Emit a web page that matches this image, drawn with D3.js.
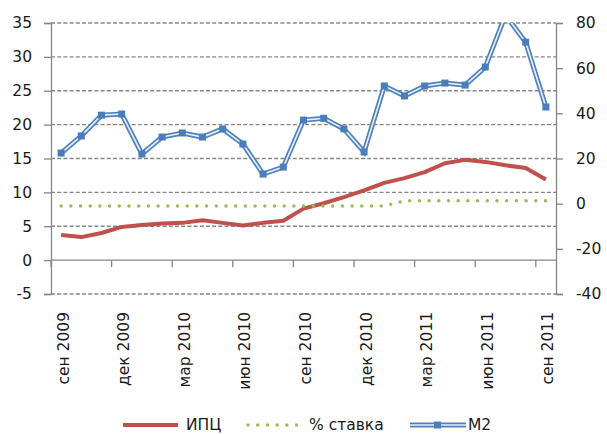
<!DOCTYPE html>
<html>
<head>
<meta charset="utf-8">
<script src="https://cdn.jsdelivr.net/npm/d3@7"></script>
<style>
  body { margin: 0; background: #fff; }
  text { font-family: "DejaVu Sans", sans-serif; }
</style>
</head>
<body>
<svg width="607" height="434"></svg>
<script>
// months on the category axis
var months = ["сен 2009", "окт 2009", "ноя 2009", "дек 2009", "янв 2010", "фев 2010",
  "мар 2010", "апр 2010", "май 2010", "июн 2010", "июл 2010", "авг 2010",
  "сен 2010", "окт 2010", "ноя 2010", "дек 2010", "янв 2011", "фев 2011",
  "мар 2011", "апр 2011", "май 2011", "июн 2011", "июл 2011", "авг 2011", "сен 2011"];

// left axis series
var cpi = [3.7, 3.4, 4.0, 4.9, 5.2, 5.4, 5.5, 5.9, 5.5, 5.1, 5.5, 5.8, 7.6, 8.4, 9.3,
  10.3, 11.4, 12.1, 13.0, 14.3, 14.8, 14.5, 14.0, 13.6, 11.9];
var rate = [8, 8, 8, 8, 8, 8, 8, 8, 8, 8, 8, 8, 8, 8, 8, 8, 8, 8.75, 8.75, 8.75, 8.75,
  8.75, 8.75, 8.75, 8.75];

// right axis series
var m2 = [22.4, 30.0, 39.2, 39.7, 22.0, 29.5, 31.3, 29.5, 33.1, 26.4, 13.1, 16.2, 37.0,
  37.8, 33.1, 22.9, 52.1, 47.7, 52.1, 53.4, 52.5, 60.5, 83.5, 71.5, 42.8];

var leftTicks = [-5, 0, 5, 10, 15, 20, 25, 30, 35];
var rightTicks = [-40, -20, 0, 20, 40, 60, 80];
var labelledMonths = months.filter(function(d, i) { return i % 3 === 0; });

var svg = d3.select("svg"),
    plotLeft = 51, plotRight = 556, plotTop = 23, plotBottom = 294,
    axisColor = "#868686", textColor = "#1a1a1a", fontSize = 15.5;

var x = d3.scaleBand().domain(months).range([plotLeft, plotRight]);
var y = d3.scaleLinear().domain([-5, 35]).range([plotBottom, plotTop]);
var y2 = d3.scaleLinear().domain([-40, 80]).range([plotBottom, plotTop]);
var cx = function(i) { return x(months[i]) + x.bandwidth() / 2; };
var plain = function(d) { return String(d); };

svg.append("defs").append("clipPath").attr("id", "plot")
  .append("rect").attr("x", plotLeft).attr("y", plotTop)
  .attr("width", plotRight - plotLeft).attr("height", plotBottom - plotTop);

// dashed gridlines
svg.append("g")
  .selectAll("line")
  .data(leftTicks.filter(function(d) { return d !== 0; }))
  .enter().append("line")
    .attr("x1", plotLeft).attr("x2", plotRight)
    .attr("y1", function(d) { return y(d); })
    .attr("y2", function(d) { return y(d); })
    .attr("stroke", axisColor)
    .attr("stroke-width", 1.3)
    .attr("stroke-dasharray", "4,2.2");

// left axis
var gl = svg.append("g")
    .attr("transform", "translate(" + plotLeft + ",0)")
    .call(d3.axisLeft(y).tickValues(leftTicks).tickFormat(plain).tickSize(7).tickPadding(12));
// right axis
var gr = svg.append("g")
    .attr("transform", "translate(" + plotRight + ",0)")
    .call(d3.axisRight(y2).tickValues(rightTicks).tickFormat(plain).tickSize(7).tickPadding(13));
[gl, gr].forEach(function(g) {
  g.select(".domain").attr("stroke", axisColor).attr("stroke-width", 1.3);
  g.selectAll(".tick line").attr("stroke", axisColor).attr("stroke-width", 1.3);
  g.selectAll(".tick text").attr("font-size", fontSize).attr("fill", textColor)
    .attr("font-family", "DejaVu Sans");
});

// category axis line at zero with tick marks between groups of three
svg.append("line")
  .attr("x1", plotLeft).attr("x2", plotRight)
  .attr("y1", y(0)).attr("y2", y(0))
  .attr("stroke", axisColor).attr("stroke-width", 1.3);
svg.append("g")
  .selectAll("line")
  .data(labelledMonths)
  .enter().append("line")
    .attr("x1", function(d) { return x(d); })
    .attr("x2", function(d) { return x(d); })
    .attr("y1", y(0)).attr("y2", y(0) + 7)
    .attr("stroke", axisColor).attr("stroke-width", 1.3);

// month labels at the bottom
var gx = svg.append("g")
    .attr("transform", "translate(0," + plotBottom + ")")
    .call(d3.axisBottom(x).tickValues(labelledMonths).tickSize(0));
gx.select(".domain").remove();
gx.selectAll(".tick text")
  .attr("font-size", fontSize).attr("fill", textColor)
  .attr("font-family", "DejaVu Sans")
  .attr("text-anchor", "end")
  .attr("transform", "rotate(-90)")
  .attr("x", -18).attr("y", 2).attr("dy", "0.35em");

var plot = svg.append("g").attr("clip-path", "url(#plot)");

// ИПЦ
plot.append("path")
  .datum(cpi)
  .attr("fill", "none")
  .attr("stroke", "#c0504d")
  .attr("stroke-width", 4)
  .attr("stroke-linejoin", "round")
  .attr("d", d3.line().x(function(d, i) { return cx(i); }).y(function(d) { return y(d); }));

// % ставка
plot.append("path")
  .datum(rate)
  .attr("fill", "none")
  .attr("stroke", "#9bbb59")
  .attr("stroke-width", 3.5)
  .attr("stroke-linecap", "round")
  .attr("stroke-dasharray", "0,9.7")
  .attr("d", d3.line().x(function(d, i) { return cx(i); }).y(function(d) { return y(d); }));

// M2 (double line)
var m2Line = d3.line().x(function(d, i) { return cx(i); }).y(function(d) { return y2(d); });
plot.append("path")
  .datum(m2)
  .attr("fill", "none")
  .attr("stroke", "#4f81bd")
  .attr("stroke-width", 5)
  .attr("d", m2Line);
plot.append("path")
  .datum(m2)
  .attr("fill", "none")
  .attr("stroke", "#e8eff8")
  .attr("stroke-width", 1.6)
  .attr("d", m2Line);
plot.selectAll(".m2mark")
  .data(m2)
  .enter().append("rect")
    .attr("class", "m2mark")
    .attr("x", function(d, i) { return cx(i) - 3.5; })
    .attr("y", function(d) { return y2(d) - 3.5; })
    .attr("width", 7).attr("height", 7)
    .attr("fill", "#4a7ebb");

// legend
var ly = 425;
var legend = svg.append("g");
legend.append("line")
  .attr("x1", 123).attr("x2", 178).attr("y1", ly).attr("y2", ly)
  .attr("stroke", "#c0504d").attr("stroke-width", 4);
legend.append("text").attr("x", 186).attr("y", ly).attr("dy", "0.35em")
  .attr("font-size", fontSize).attr("fill", textColor).text("ИПЦ");
legend.append("line")
  .attr("x1", 248).attr("x2", 298).attr("y1", ly).attr("y2", ly)
  .attr("stroke", "#9bbb59").attr("stroke-width", 3.5)
  .attr("stroke-linecap", "round").attr("stroke-dasharray", "0,9.7");
legend.append("text").attr("x", 309).attr("y", ly).attr("dy", "0.35em")
  .attr("font-size", fontSize).attr("fill", textColor).text("% ставка");
legend.append("line")
  .attr("x1", 410).attr("x2", 466).attr("y1", ly).attr("y2", ly)
  .attr("stroke", "#4f81bd").attr("stroke-width", 5);
legend.append("line")
  .attr("x1", 410).attr("x2", 466).attr("y1", ly).attr("y2", ly)
  .attr("stroke", "#e8eff8").attr("stroke-width", 1.6);
legend.append("rect")
  .attr("x", 434).attr("y", ly - 3.5).attr("width", 7).attr("height", 7)
  .attr("fill", "#4a7ebb");
legend.append("text").attr("x", 468).attr("y", ly).attr("dy", "0.35em")
  .attr("font-size", fontSize).attr("fill", textColor).text("M2");
</script>
</body>
</html>
